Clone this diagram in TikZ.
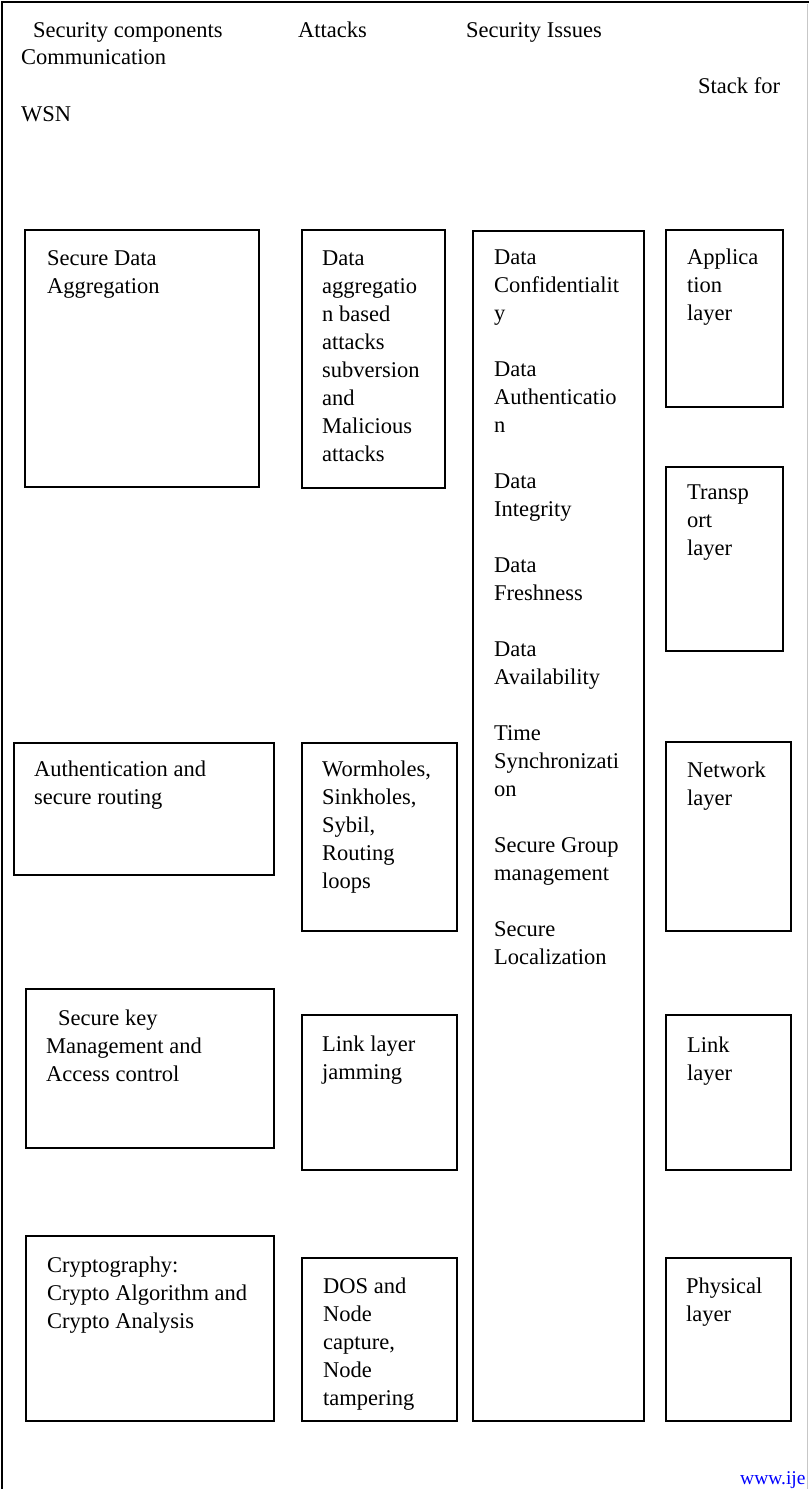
\documentclass[tikz,border=0pt]{standalone}
\usepackage{fontspec}
\setmainfont{Liberation Serif}
\newcommand{\fl}{\rule{0pt}{17pt}}
\begin{document}
\begin{tikzpicture}[x=1pt,y=-1pt,
  bx/.style={draw=black, line width=1.4pt},
  txt/.style={anchor=north west, inner sep=0pt, align=left, font=\fontsize{22.5}{28}\selectfont},
  frame/.style={draw=black, line width=2pt}]
\useasboundingbox (0,0) rectangle (809,1489);
% outer frame
\coordinate (tl) at (1.5,2);
\coordinate (tr) at (809,2);
\coordinate (bl) at (1.5,1489);
\draw[frame] (bl) -- (tl) -- (tr);
\coordinate (rt) at (807.5,4);
\coordinate (rb) at (807.5,1489);
\draw[draw=black!22, line width=1.2pt] (rt) -- (rb);
% headers
\node[txt] (h1) at (33,20) {\fl Security components};
\node[txt] (h2) at (298,20) {\fl Attacks};
\node[txt] (h3) at (466,20) {\fl Security Issues};
\node[txt] (h4) at (21,47) {\fl Communication};
\node[txt] (h5) at (698,76) {\fl Stack for};
\node[txt] (h6) at (21,104) {\fl WSN};
% column 1
\draw[bx] (25,230) rectangle (259,487);
\node[txt] (c1a) at (47,248) {\fl Secure Data\\Aggregation};
\draw[bx] (14,743) rectangle (274,875);
\node[txt] (c1b) at (34,759) {\fl Authentication and\\secure routing};
\draw[bx] (26,989) rectangle (274,1148);
\node[txt] (c1c) at (46,1008) {\fl \hspace*{12pt}Secure key\\Management and\\Access control};
\draw[bx] (26,1236) rectangle (274,1421);
\node[txt] (c1d) at (47,1255) {\fl Cryptography:\\Crypto Algorithm and\\Crypto Analysis};
% column 2
\draw[bx] (302,230) rectangle (445,488);
\node[txt] (c2a) at (322,248) {\fl Data\\aggregatio\\n based\\attacks\\subversion\\and\\Malicious\\attacks};
\draw[bx] (302,743) rectangle (457,931);
\node[txt] (c2b) at (322,759) {\fl Wormholes,\\Sinkholes,\\Sybil,\\Routing\\loops};
\draw[bx] (302,1015) rectangle (457,1170);
\node[txt] (c2c) at (322,1034) {\fl Link layer\\jamming};
\draw[bx] (302,1258) rectangle (457,1421);
\node[txt] (c2d) at (323,1276) {\fl DOS and\\Node\\capture,\\Node\\tampering};
% column 3
\draw[bx] (473,231) rectangle (644,1421);
\node[txt] (c3) at (494,247) {\fl Data\\Confidentialit\\y\\[28pt]Data\\Authenticatio\\n\\[28pt]Data\\Integrity\\[28pt]Data\\Freshness\\[28pt]Data\\Availability\\[28pt]Time\\Synchronizati\\on\\[28pt]Secure Group\\management\\[28pt]Secure\\Localization};
% column 4
\draw[bx] (666,230) rectangle (783,407);
\node[txt] (c4a) at (687,247) {\fl Applica\\tion\\layer};
\draw[bx] (666,467) rectangle (783,651);
\node[txt] (c4b) at (687,482) {\fl Transp\\ort\\layer};
\draw[bx] (666,742) rectangle (791,931);
\node[txt] (c4c) at (687,760) {\fl Network\\layer};
\draw[bx] (666,1015) rectangle (791,1170);
\node[txt] (c4d) at (687,1035) {\fl Link\\layer};
\draw[bx] (666,1258) rectangle (791,1421);
\node[txt] (c4e) at (686,1276) {\fl Physical\\layer};
% footer
\node[anchor=base west, inner sep=0pt, font=\fontsize{19.5}{24}\selectfont, text=blue] (www) at (740,1484) {www.ije};
\end{tikzpicture}
\end{document}
